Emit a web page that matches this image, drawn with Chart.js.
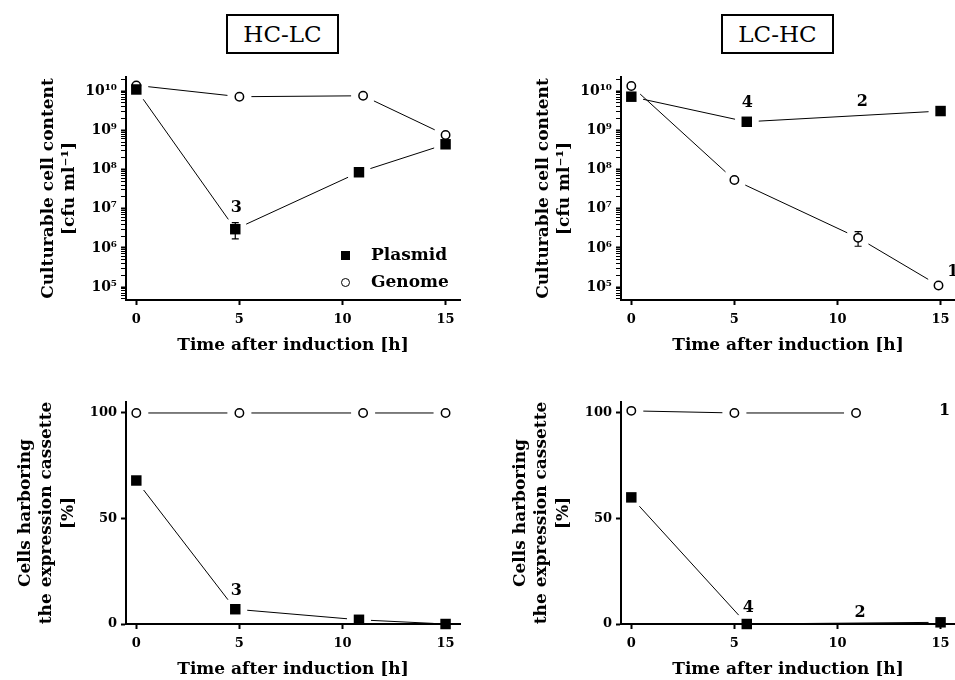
<!DOCTYPE html>
<html lang="en">
<head>
<meta charset="UTF-8">
<title>HC-LC / LC-HC</title>
<script src="https://cdn.jsdelivr.net/npm/chart.js"></script>
<style>
    html, body { margin: 0; padding: 0; background: #fff; overflow: hidden; }
    body { width: 955px; height: 680px; position: relative; font-family: "DejaVu Serif", serif; color: #000; }
    .panel { position: absolute; }
    .tag {
        position: absolute; top: 14px; width: 109px; height: 36px;
        border: 2px solid #000; font-size: 23px; line-height: 36px; text-align: center;
    }
    .legend { position: absolute; left: 338px; top: 243px; font-weight: bold; font-size: 17px; }
    .legend div { height: 27px; line-height: 22px; }
    .legend span.mk { display: inline-block; width: 14px; margin-right: 19px; text-align: center; }
    .sq { display: inline-block; width: 9px; height: 9px; background: #000; }
    .ci { display: inline-block; width: 7px; height: 7px; border: 1.5px solid #000; border-radius: 50%; }
</style>
</head>
<body>

<div class="tag" style="left:226px">HC-LC</div>
<div class="tag" style="left:721px">LC-HC</div>

<div class="panel" style="left:0;top:60px;width:475px;height:296px"><canvas id="tl"></canvas></div>
<div class="panel" style="left:495px;top:60px;width:475px;height:296px"><canvas id="tr"></canvas></div>
<div class="panel" style="left:0;top:385px;width:475px;height:295px"><canvas id="bl"></canvas></div>
<div class="panel" style="left:495px;top:385px;width:475px;height:295px"><canvas id="br"></canvas></div>

<div class="legend">
    <div><span class="mk"><span class="sq"></span></span>Plasmid</div>
    <div><span class="mk"><span class="ci"></span></span>Genome</div>
</div>

<script>
    // tick values / labels
    const xTicks = [0, 5, 10, 15];
    const logTickValues = [1e5, 1e6, 1e7, 1e8, 1e9, 1e10];
    const logTickLabels = ['10⁵', '10⁶', '10⁷', '10⁸', '10⁹', '10¹⁰'];
    const pctTicks = [0, 50, 100];

    // HC-LC, culturable cells [cfu/ml]
    const tlPlasmidX = [0, 4.8, 10.8, 15];
    const tlPlasmidY = [1.1e10, 3.0e6, 8.5e7, 4.4e8];
    const tlPlasmidErr = [null, [1.7e6, 4.4e6], null, null];
    const tlGenomeX = [0, 5, 11, 15];
    const tlGenomeY = [1.4e10, 7.2e9, 7.6e9, 7.6e8];
    const tlNoteText = ['3'];
    const tlNoteX = [4.85];
    const tlNoteY = [1.05e7];

    // LC-HC, culturable cells [cfu/ml]
    const trPlasmidX = [0, 5.6, 15];
    const trPlasmidY = [7.2e9, 1.65e9, 3.1e9];
    const trPlasmidErr = [null, [1.35e9, 1.95e9], null];
    const trGenomeX = [0, 5, 11, 14.9];
    const trGenomeY = [1.35e10, 5.4e7, 1.8e6, 1.1e5];
    const trGenomeErr = [null, null, [1.1e6, 2.6e6], null];
    const trNoteText = ['4', '2', '1'];
    const trNoteX = [5.63, 11.2, 15.6];
    const trNoteY = [4.9e9, 5.2e9, 2.4e5];

    // HC-LC, cells harboring the cassette [%]
    const blPlasmidX = [0, 4.8, 10.8, 15];
    const blPlasmidY = [68, 7, 2, 0];
    const blGenomeX = [0, 5, 11, 15];
    const blGenomeY = [100, 100, 100, 100];
    const blNoteText = ['3'];
    const blNoteX = [4.85];
    const blNoteY = [15.6];

    // LC-HC, cells harboring the cassette [%]
    const brPlasmidX = [0, 5.6, 15];
    const brPlasmidY = [60, 0, 0.8];
    const brGenomeX = [0, 5, 10.9];
    const brGenomeY = [101, 100, 100];
    const brNoteText = ['4', '2', '1'];
    const brNoteX = [5.68, 11.1, 15.2];
    const brNoteY = [7.6, 5.2, 101];

    const FONT = "'DejaVu Serif', serif";
    const GAP = 12;   // Prism style gap between line ends and markers

    Chart.defaults.font.family = FONT;
    Chart.defaults.color = '#000';

    // connecting lines that stop short of each marker
    const gapLines = {
        id: 'gapLines',
        beforeDatasetsDraw(chart) {
            const ctx = chart.ctx;
            ctx.save();
            ctx.strokeStyle = '#000';
            ctx.lineWidth = 1;
            chart.data.datasets.forEach((ds, i) => {
                const pts = chart.getDatasetMeta(i).data;
                for (let k = 1; k < pts.length; k++) {
                    const a = pts[k - 1], b = pts[k];
                    const dx = b.x - a.x, dy = b.y - a.y;
                    const len = Math.hypot(dx, dy);
                    if (len <= 2 * GAP) continue;
                    const ux = dx / len, uy = dy / len;
                    ctx.beginPath();
                    ctx.moveTo(a.x + ux * GAP, a.y + uy * GAP);
                    ctx.lineTo(b.x - ux * GAP, b.y - uy * GAP);
                    ctx.stroke();
                }
            });
            ctx.restore();
        }
    };

    // vertical error bars, drawn below the markers
    const errorBars = {
        id: 'errorBars',
        beforeDatasetsDraw(chart) {
            const ctx = chart.ctx;
            const y = chart.scales.y;
            ctx.save();
            ctx.strokeStyle = '#000';
            ctx.lineWidth = 1.2;
            chart.data.datasets.forEach((ds, i) => {
                if (!ds.errors) return;
                const pts = chart.getDatasetMeta(i).data;
                ds.errors.forEach((e, k) => {
                    if (!e) return;
                    const px = pts[k].x;
                    const lo = y.getPixelForValue(e[0]), hi = y.getPixelForValue(e[1]);
                    ctx.beginPath();
                    ctx.moveTo(px, lo); ctx.lineTo(px, hi);
                    ctx.moveTo(px - 3.5, lo); ctx.lineTo(px + 3.5, lo);
                    ctx.moveTo(px - 3.5, hi); ctx.lineTo(px + 3.5, hi);
                    ctx.stroke();
                });
            });
            ctx.restore();
        }
    };

    // the small bold numbers next to some points
    const notes = {
        id: 'notes',
        afterDatasetsDraw(chart, args, opts) {
            const ctx = chart.ctx;
            ctx.save();
            ctx.font = 'bold 16px ' + FONT;
            ctx.fillStyle = '#000';
            ctx.textAlign = 'center';
            ctx.textBaseline = 'middle';
            (opts.text || []).forEach((t, k) => {
                ctx.fillText(t, chart.scales.x.getPixelForValue(opts.x[k]),
                    chart.scales.y.getPixelForValue(opts.y[k]));
            });
            ctx.restore();
        }
    };

    function series(xs, ys, filled, errs) {
        return {
            data: xs.map((x, i) => ({ x: x, y: ys[i] })),
            showLine: false,
            pointStyle: filled ? 'rect' : 'circle',
            pointRadius: filled ? 7.4 : 4.2,
            pointBackgroundColor: filled ? '#000' : '#fff',
            pointBorderColor: '#000',
            pointBorderWidth: filled ? 0 : 1.5,
            clip: false,
            errors: errs || null
        };
    }

    const axisTitle = { size: 17, weight: 'bold', lineHeight: 1.25 };

    function xScale() {
        return {
            type: 'linear',
            min: -0.5,
            max: 15.7,
            afterBuildTicks: s => { s.ticks = xTicks.map(v => ({ value: v })); },
            afterFit: s => { s.height = 56; },
            ticks: { font: { size: 13, weight: 'bold' }, padding: 7, autoSkip: false, maxRotation: 0 },
            grid: { drawOnChartArea: false, tickLength: 5, tickWidth: 2, tickColor: '#000' },
            border: { display: true, color: '#000', width: 2 },
            title: { display: true, text: 'Time after induction [h]', font: axisTitle, padding: { top: 0, bottom: 0 } }
        };
    }

    function logScale() {
        return {
            type: 'logarithmic',
            min: Math.pow(10, 4.67),
            max: Math.pow(10, 10.36),
            afterBuildTicks: s => {
                const t = [];
                logTickValues.concat([1e4]).forEach(d => {
                    for (let k = 1; k <= 9; k++) {
                        const v = k * d;
                        if (v >= s.min && v <= s.max) t.push({ value: v });
                    }
                });
                t.sort((a, b) => a.value - b.value);
                s.ticks = t;
            },
            afterFit: s => { s.width = 126; },
            ticks: {
                font: { size: 14, weight: 'bold' }, padding: 4, autoSkip: false,
                callback: v => {
                    const i = logTickValues.findIndex(d => Math.abs(d - v) / d < 1e-6);
                    return i < 0 ? '' : logTickLabels[i];
                }
            },
            grid: {
                drawOnChartArea: false, tickLength: 5, tickColor: '#000',
                tickWidth: c => (c.tick && logTickValues.some(d => Math.abs(d - c.tick.value) / d < 1e-6)) ? 2 : 1
            },
            border: { display: true, color: '#000', width: 2 },
            title: {
                display: true, text: ['Culturable cell content', '[cfu ml⁻¹]'],
                font: axisTitle, padding: { top: 38, bottom: 0 }
            }
        };
    }

    function pctScale() {
        return {
            type: 'linear',
            min: 0,
            max: 105.2,
            afterBuildTicks: s => { s.ticks = pctTicks.map(v => ({ value: v })); },
            afterFit: s => { s.width = 126; },
            ticks: { font: { size: 13, weight: 'bold' }, padding: 4, autoSkip: false },
            grid: { drawOnChartArea: false, tickLength: 5, tickWidth: 2, tickColor: '#000' },
            border: { display: true, color: '#000', width: 2 },
            title: {
                display: true, text: ['Cells harboring', 'the expression cassette', '[%]'],
                font: axisTitle, padding: { top: 15, bottom: 0 }
            }
        };
    }

    function makeChart(id, datasets, yScale, noteText, noteX, noteY) {
        return new Chart(document.getElementById(id), {
            type: 'scatter',
            data: { datasets: datasets },
            options: {
                responsive: true,
                maintainAspectRatio: false,
                animation: false,
                events: [],
                layout: { padding: { top: 17, left: 0, right: 15, bottom: 0 } },
                plugins: {
                    legend: { display: false },
                    tooltip: { enabled: false },
                    notes: { text: noteText, x: noteX, y: noteY }
                },
                scales: { x: xScale(), y: yScale }
            },
            plugins: [gapLines, errorBars, notes]
        });
    }

    makeChart('tl', [
        series(tlPlasmidX, tlPlasmidY, true, tlPlasmidErr),
        series(tlGenomeX, tlGenomeY, false)
    ], logScale(), tlNoteText, tlNoteX, tlNoteY);

    makeChart('tr', [
        series(trPlasmidX, trPlasmidY, true, trPlasmidErr),
        series(trGenomeX, trGenomeY, false, trGenomeErr)
    ], logScale(), trNoteText, trNoteX, trNoteY);

    makeChart('bl', [
        series(blPlasmidX, blPlasmidY, true),
        series(blGenomeX, blGenomeY, false)
    ], pctScale(), blNoteText, blNoteX, blNoteY);

    makeChart('br', [
        series(brPlasmidX, brPlasmidY, true),
        series(brGenomeX, brGenomeY, false)
    ], pctScale(), brNoteText, brNoteX, brNoteY);
</script>
</body>
</html>
